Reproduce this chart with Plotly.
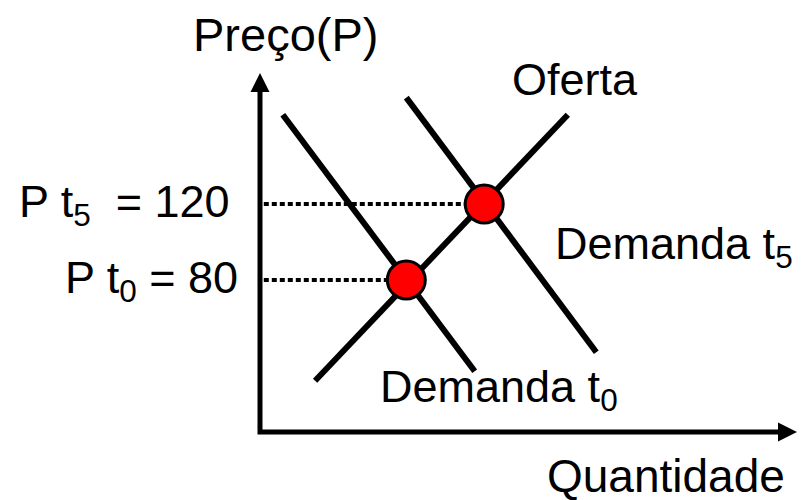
import plotly.graph_objects as go

# curvas (quantidade, preço)
demanda_t0_q = [12, 113]
demanda_t0_p = [167, 32]
demanda_t5_q = [77, 177]
demanda_t5_p = [176, 42]
oferta_q = [29, 162]
oferta_p = [27, 167]

# equilíbrios t0 e t5
equilibrio_q = [77, 118]
equilibrio_p = [80, 120]
precos_labels = ["P t<sub>0</sub> = 80", "P t<sub>5</sub>\u00a0 = 120"]

FONT = "Arial, 'Liberation Sans', sans-serif"
S = 1.9  # px por unidade
X0, Y0 = 260, 432  # origem em pixels
W, H = 812, 500

x_range = [-X0 / S, (W - X0) / S]
y_range = [-(H - Y0) / S, Y0 / S]
q_tip = (797 - X0) / S
p_tip = (Y0 - 73) / S

fig = go.Figure()

# eixos
fig.add_trace(go.Scatter(
    x=[0, 0, q_tip - 8], y=[p_tip - 8, 0, 0],
    mode="lines", line=dict(color="black", width=5),
    hoverinfo="skip",
))
fig.add_trace(go.Scatter(
    x=[0], y=[p_tip], mode="markers",
    marker=dict(symbol="arrow-up", size=19, color="black"),
    hoverinfo="skip",
))
fig.add_trace(go.Scatter(
    x=[q_tip], y=[0], mode="markers",
    marker=dict(symbol="arrow-right", size=19, color="black"),
    hoverinfo="skip",
))

# linhas pontilhadas até o eixo de preço
for q, p in zip(equilibrio_q, equilibrio_p):
    fig.add_trace(go.Scatter(
        x=[2, q], y=[p, p], mode="lines",
        line=dict(color="black", width=4, dash="5px,3px"),
        hoverinfo="skip",
    ))

for qs, ps in [(demanda_t0_q, demanda_t0_p), (demanda_t5_q, demanda_t5_p), (oferta_q, oferta_p)]:
    fig.add_trace(go.Scatter(
        x=qs, y=ps, mode="lines",
        line=dict(color="black", width=6),
        hoverinfo="skip",
    ))

fig.add_trace(go.Scatter(
    x=equilibrio_q, y=equilibrio_p, mode="markers",
    marker=dict(size=38, color="#FF0000", line=dict(color="black", width=3)),
    hoverinfo="skip",
))


def q_of(px):
    return (px - X0) / S


def p_of(py):
    return (Y0 - py) / S


labels = [
    ("Preço(P)", q_of(285), p_of(34), "center", 47),
    ("Oferta", q_of(575), p_of(79), "center", 45),
    ("Demanda t<sub>5</sub>", q_of(553), p_of(246), "left", 45),
    ("Demanda t<sub>0</sub>", q_of(378), p_of(389), "left", 45),
    (precos_labels[1], q_of(232), equilibrio_p[1], "right", 45),
    (precos_labels[0], q_of(240), equilibrio_p[0], "right", 45),
    ("Quantidade", q_of(666), p_of(476), "center", 46),
]
for txt, x, y, anchor, size in labels:
    fig.add_annotation(
        x=x, y=y, text=txt, showarrow=False,
        xanchor=anchor, yanchor="middle",
        font=dict(family=FONT, size=size, color="black"),
    )

fig.update_layout(
    width=W, height=H,
    margin=dict(l=0, r=0, t=0, b=0),
    paper_bgcolor="white", plot_bgcolor="white",
    showlegend=False,
    xaxis=dict(range=x_range, visible=False, fixedrange=True),
    yaxis=dict(range=y_range, visible=False, fixedrange=True),
)

fig.write_html(
    "out.html",
    config={"displayModeBar": False},
    post_script="document.body.style.margin='0';",
)
